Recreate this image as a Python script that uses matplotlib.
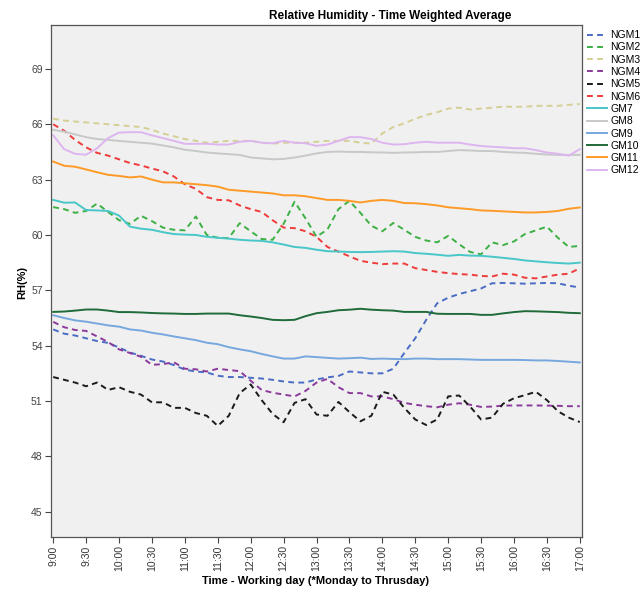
import numpy as np
import matplotlib
matplotlib.use("Agg")
from matplotlib import pyplot as plt

plt.rcParams["font.family"] = ["Liberation Sans", "DejaVu Sans"]

# minutes after 9:00, sampled every 10 minutes
minutes = list(range(0, 481, 10))

ngm1 = [54.88, 54.65, 54.55, 54.4, 54.25, 54.15, 53.9, 53.63, 53.45, 53.25,
        53.14, 52.95, 52.7, 52.6, 52.55, 52.37, 52.3, 52.3, 52.26, 52.22,
        52.15, 52.06, 52.0, 52.0, 52.17, 52.28, 52.36, 52.6, 52.55, 52.5,
        52.5, 52.75, 53.6, 54.4, 55.4, 56.3, 56.6, 56.8, 56.95, 57.1,
        57.38, 57.4, 57.38, 57.36, 57.38, 57.4, 57.38, 57.25, 57.15]
ngm2 = [61.51, 61.4, 61.2, 61.3, 61.7, 61.25, 60.8, 60.6, 61.04, 60.75,
        60.4, 60.28, 60.25, 61.0, 60.0, 59.85, 59.83, 60.64, 60.2, 59.78,
        59.74, 60.6, 61.8, 60.9, 59.9, 60.3, 61.4, 61.85, 61.2, 60.5,
        60.2, 60.65, 60.28, 59.9, 59.7, 59.6, 59.95, 59.5, 59.08, 58.95,
        59.6, 59.45, 59.65, 60.05, 60.25, 60.45, 59.85, 59.35, 59.41]
ngm3 = [66.3, 66.2, 66.15, 66.1, 66.05, 66.0, 65.95, 65.9, 65.85, 65.7,
        65.5, 65.35, 65.2, 65.1, 65.0, 65.05, 65.1, 65.1, 65.1, 65.0,
        64.95, 65.0, 65.0, 65.0, 65.05, 65.1, 65.1, 65.1, 65.0, 64.95,
        65.5, 65.85, 66.05, 66.3, 66.5, 66.65, 66.85, 66.9, 66.8, 66.85,
        66.9, 66.95, 66.95, 66.95, 67.0, 67.0, 67.0, 67.05, 67.1]
ngm4 = [55.29, 55.0, 54.85, 54.8, 54.5, 54.2, 53.8, 53.6, 53.4, 52.96,
        53.0, 53.1, 52.75, 52.72, 52.6, 52.75, 52.68, 52.62, 52.1, 51.6,
        51.45, 51.35, 51.25, 51.55, 52.0, 52.2, 51.75, 51.43, 51.43, 51.25,
        51.25, 51.1, 50.9, 50.8, 50.72, 50.66, 50.8, 50.88, 50.8, 50.68,
        50.7, 50.75, 50.76, 50.76, 50.76, 50.75, 50.74, 50.72, 50.72]
ngm5 = [52.3, 52.15, 52.0, 51.8, 52.0, 51.6, 51.75, 51.5, 51.35, 50.93,
        50.93, 50.63, 50.63, 50.35, 50.2, 49.65, 50.2, 51.43, 51.9, 51.05,
        50.3, 49.85, 50.9, 51.1, 50.27, 50.2, 50.95, 50.4, 49.9, 50.2,
        51.5, 51.35, 50.63, 50.0, 49.7, 50.0, 51.25, 51.3, 50.7, 50.0,
        50.1, 50.85, 51.15, 51.32, 51.5, 51.05, 50.45, 50.1, 49.86]
ngm6 = [66.0, 65.65, 65.15, 64.75, 64.45, 64.3, 64.1, 63.9, 63.77, 63.6,
        63.45, 63.17, 62.75, 62.5, 62.05, 61.9, 61.88, 61.6, 61.4, 61.25,
        60.8, 60.4, 60.37, 60.2, 59.9, 59.35, 59.1, 58.84, 58.6, 58.5,
        58.42, 58.45, 58.45, 58.2, 58.1, 58.0, 57.93, 57.88, 57.85, 57.78,
        57.75, 57.9, 57.85, 57.68, 57.65, 57.75, 57.85, 57.9, 58.2]
gm7 = [61.9, 61.75, 61.76, 61.35, 61.33, 61.3, 61.05, 60.45, 60.34, 60.28,
       60.15, 60.05, 60.02, 60.0, 59.9, 59.85, 59.8, 59.74, 59.7, 59.68,
       59.6, 59.48, 59.35, 59.3, 59.2, 59.12, 59.1, 59.08, 59.07, 59.08,
       59.1, 59.12, 59.1, 59.02, 58.98, 58.93, 58.87, 58.92, 58.88, 58.87,
       58.82, 58.76, 58.7, 58.62, 58.57, 58.52, 58.48, 58.45, 58.5]
gm8 = [65.7, 65.6, 65.45, 65.3, 65.2, 65.15, 65.1, 65.05, 65.0, 64.95,
       64.85, 64.75, 64.62, 64.55, 64.47, 64.42, 64.38, 64.34, 64.2, 64.15,
       64.1, 64.12, 64.2, 64.3, 64.42, 64.5, 64.52, 64.5, 64.5, 64.48,
       64.47, 64.45, 64.47, 64.48, 64.5, 64.5, 64.55, 64.6, 64.58, 64.55,
       64.55, 64.5, 64.47, 64.45, 64.4, 64.36, 64.34, 64.34, 64.34]
gm9 = [55.65, 55.5, 55.37, 55.3, 55.2, 55.1, 55.03, 54.88, 54.82, 54.7,
       54.61, 54.5, 54.4, 54.3, 54.16, 54.08, 53.92, 53.8, 53.7, 53.55,
       53.42, 53.3, 53.3, 53.42, 53.38, 53.34, 53.3, 53.32, 53.35, 53.28,
       53.3, 53.28, 53.27, 53.3, 53.3, 53.27, 53.27, 53.27, 53.25, 53.23,
       53.23, 53.23, 53.23, 53.22, 53.2, 53.2, 53.17, 53.13, 53.09]
gm10 = [55.83, 55.85, 55.9, 55.96, 55.96, 55.9, 55.82, 55.82, 55.8, 55.77,
        55.75, 55.74, 55.72, 55.72, 55.74, 55.74, 55.74, 55.65, 55.58, 55.5,
        55.4, 55.38, 55.4, 55.6, 55.76, 55.83, 55.92, 55.95, 56.0, 55.95,
        55.92, 55.9, 55.83, 55.83, 55.83, 55.73, 55.72, 55.72, 55.72, 55.67,
        55.67, 55.75, 55.82, 55.87, 55.86, 55.84, 55.82, 55.78, 55.76]
gm11 = [63.98, 63.75, 63.7, 63.55, 63.4, 63.26, 63.2, 63.12, 63.17, 63.0,
        62.85, 62.85, 62.8, 62.75, 62.7, 62.62, 62.45, 62.4, 62.35, 62.3,
        62.25, 62.15, 62.15, 62.1, 62.0, 61.9, 61.9, 61.85, 61.76, 61.85,
        61.9, 61.85, 61.73, 61.72, 61.67, 61.6, 61.5, 61.45, 61.4, 61.33,
        61.31, 61.28, 61.25, 61.22, 61.22, 61.25, 61.3, 61.42, 61.49]
gm12 = [65.4, 64.65, 64.4, 64.35, 64.7, 65.25, 65.55, 65.57, 65.57, 65.4,
        65.25, 65.1, 64.94, 64.94, 64.94, 64.9, 64.9, 65.05, 65.1, 65.0,
        64.97, 65.1, 65.0, 64.97, 64.83, 64.9, 65.1, 65.3, 65.3, 65.2,
        65.0, 64.9, 64.92, 65.0, 65.05, 65.0, 65.0, 65.0, 64.9, 64.82,
        64.78, 64.75, 64.7, 64.7, 64.6, 64.47, 64.4, 64.3, 64.65]

series_names = ["NGM1", "NGM2", "NGM3", "NGM4", "NGM5", "NGM6",
                "GM7", "GM8", "GM9", "GM10", "GM11", "GM12"]
series_values = [ngm1, ngm2, ngm3, ngm4, ngm5, ngm6,
                 gm7, gm8, gm9, gm10, gm11, gm12]
series_colors = ["#4a6cc4", "#3cb043", "#d4cf94", "#8b3a9b", "#1a1a1a", "#ef3b3b",
                 "#48c6c8", "#c8c8c8", "#76a8de", "#1f6b3a", "#ff9a26", "#ddb5ef"]

tick_minutes = list(range(0, 481, 30))
tick_labels = ["9:00", "9:30", "10:00", "10:30", "11:00", "11:30", "12:00", "12:30",
               "13:00", "13:30", "14:00", "14:30", "15:00", "15:30", "16:00",
               "16:30", "17:00"]
y_ticks = [45, 48, 51, 54, 57, 60, 63, 66, 69]

fig = plt.figure(figsize=(6.44, 5.89), dpi=100)
ax = fig.add_axes([51 / 644, 1 - 537 / 589, 531 / 644, 512 / 589])
ax.set_facecolor("#f0f0f0")

for name, vals, col in zip(series_names, series_values, series_colors):
    if name.startswith("NGM"):
        ax.plot(minutes, vals, color=col, lw=1.4, linestyle=(0, (3, 2.2)), label=name)
    else:
        ax.plot(minutes, vals, color=col, lw=1.4, label=name)

ax.set_xlim(-2, 482)
ax.set_ylim(43.63, 71.38)
ax.set_xticks(tick_minutes)
ax.set_xticklabels(tick_labels, rotation=90, fontsize=7.5, color="#333333")
ax.set_yticks(y_ticks)
ax.set_yticklabels([str(v) for v in y_ticks], fontsize=7.5, color="#444444")
ax.tick_params(axis="both", length=4, width=0.8, color="#444444", pad=2)
for sp in ax.spines.values():
    sp.set_color("#555555")
    sp.set_linewidth(0.9)

fig.text(316 / 644, 1 - 581 / 589, "Time - Working day (*Monday to Thrusday)",
         ha="center", va="center", fontsize=8, fontweight="bold")
fig.text(22 / 644, 1 - 282 / 589, "RH(%)", rotation=90,
         ha="center", va="center", fontsize=8, fontweight="bold")
fig.text(390 / 644, 1 - 16 / 589, "Relative Humidity - Time Weighted Average",
         ha="center", va="center", fontsize=8.5, fontweight="bold")

ax.legend(loc="upper left", bbox_to_anchor=(1.0, 1.0), frameon=False,
          fontsize=7.5, handlelength=1.9, handletextpad=0.3, labelspacing=0.22,
          borderaxespad=0.1)

fig.savefig("out.png", dpi=100)
